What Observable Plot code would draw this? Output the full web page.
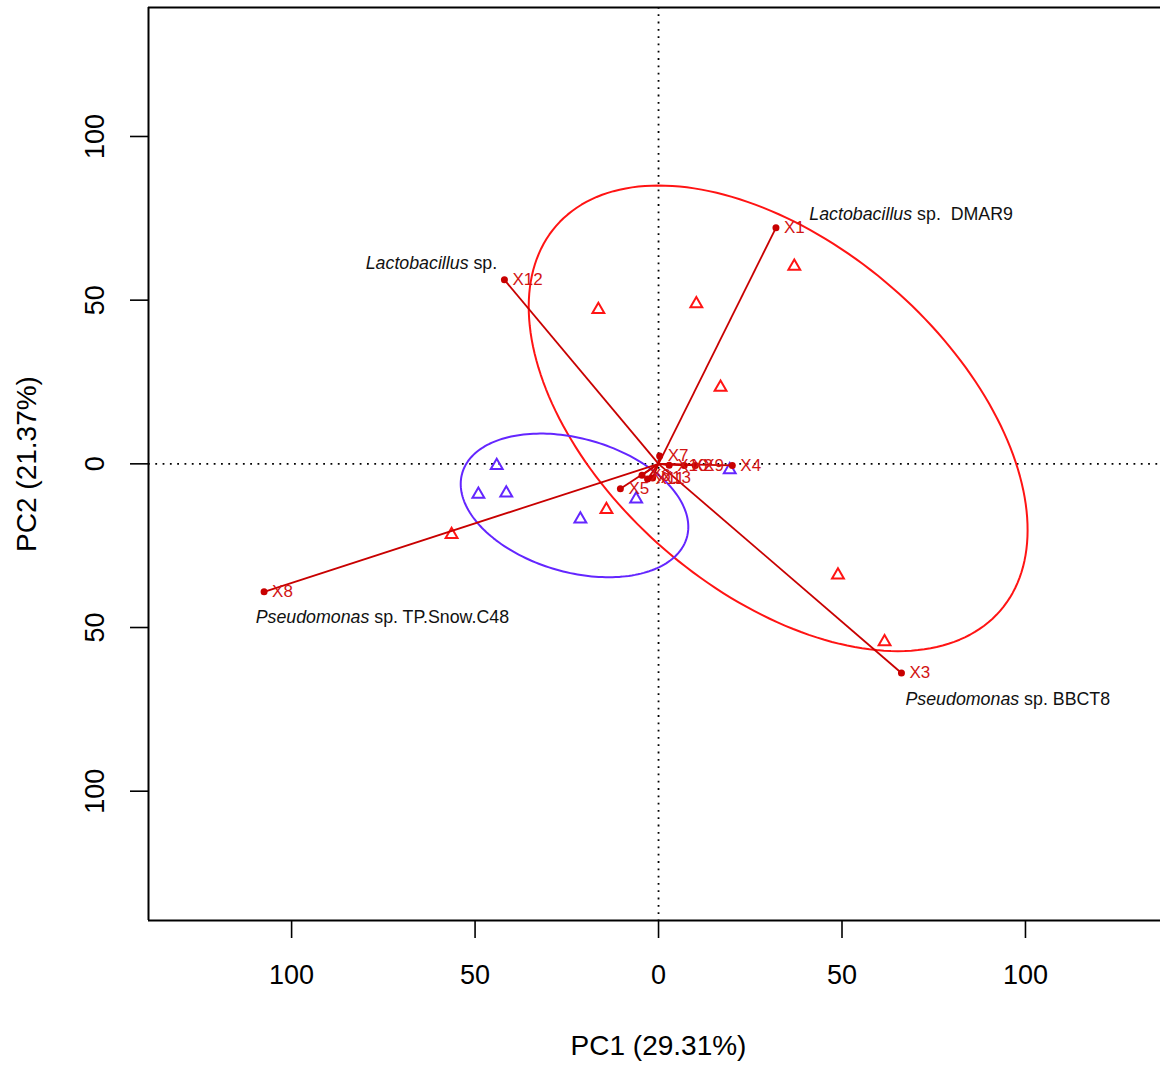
<!DOCTYPE html>
<html>
<head>
<meta charset="utf-8">
<script src="https://cdn.jsdelivr.net/npm/d3@7"></script>
<script src="https://cdn.jsdelivr.net/npm/@observablehq/plot@0.6"></script>
<style>
  html, body { margin: 0; padding: 0; background: #fff; overflow: hidden; }
  #chart svg { display: block; }
</style>
</head>
<body>
<div id="chart"></div>
<script>
// ---- data ----
const groupNames = ["A", "B"];
const groupColors = ["#ff1414", "#6426ff"];

// sample scores (open triangles)
const sampleGroup = ["A", "A", "A", "A", "A", "A", "A", "A", "B", "B", "B", "B", "B", "B"];
const sampleX = [37.0, 10.3, -16.4, 16.9, -14.2, -56.4, 48.9, 61.6, -44.1, -49.1, -41.5, -21.3, -6.1, 19.4];
const sampleY = [60.3, 48.9, 47.1, 23.4, -14.0, -21.6, -34.0, -54.4, -0.5, -9.3, -8.9, -16.9, -10.8, -1.8];

// variable loadings (vectors from origin)
const variables = ["X1", "X2", "X3", "X4", "X5", "X6", "X7", "X8", "X9", "X10", "X11", "X12", "X13"];
const loadingX = [32.0, 7.0, 66.2, 20.1, -10.4, -4.5, 0.3, -107.5, 10.0, 2.9, -3.0, -42.0, -1.6];
const loadingY = [72.1, -0.5, -63.9, -0.5, -7.6, -3.5, 2.4, -39.1, -0.5, -0.4, -4.6, 56.2, -4.3];

// group ellipses: centre and shape matrix [a11, a12, a21, a22]
// (x = cx + a11 cos t + a12 sin t ; y = cy + a21 cos t + a22 sin t)
const ellipseGroup = ["A", "B"];
const ellipseCX = [32.6, -22.9];
const ellipseCY = [13.9, -12.7];
const ellipseShape = [[60.5, -31.0, -58.8, -40.0], [30.6, -5.03, -9.86, -19.6]];

// species annotations
const speciesNames = ["Lactobacillus sp.", "Lactobacillus sp.  DMAR9", "Pseudomonas sp. TP.Snow.C48", "Pseudomonas sp. BBCT8"];
const speciesX = [-79.8, 41.1, -109.8, 67.3];
const speciesY = [61.2, 76.2, -46.9, -71.9];

// axes
const xTicks = [-100, -50, 0, 50, 100];
const yTicks = [-100, -50, 0, 50, 100];
const xDomain = [-139, 136.8];
const yDomain = [-139.5, 139.4];
const xTitle = "PC1 (29.31%)";
const yTitle = "PC2 (21.37%)";

// ---- build tables ----
const samples = sampleX.map((x, i) => ({x, y: sampleY[i], group: sampleGroup[i]}));
const loadings = variables.map((name, i) => ({name, x: loadingX[i], y: loadingY[i]}));
const ellipsePts = [];
ellipseGroup.forEach((g, k) => {
  const [a11, a12, a21, a22] = ellipseShape[k];
  const n = 200;
  for (let j = 0; j <= n; j++) {
    const t = (2 * Math.PI * j) / n;
    ellipsePts.push({
      group: g,
      x: ellipseCX[k] + a11 * Math.cos(t) + a12 * Math.sin(t),
      y: ellipseCY[k] + a21 * Math.cos(t) + a22 * Math.sin(t)
    });
  }
});
const species = speciesNames.map((label, i) => ({label, x: speciesX[i], y: speciesY[i]}));

const FONT = "'Liberation Sans', Arial, Helvetica, sans-serif";
const VEC = "#c80000";

const chart = Plot.plot({
  width: 1160,
  height: 1065,
  marginLeft: 148,
  marginRight: 0,
  marginTop: 7,
  marginBottom: 145,
  style: {fontFamily: FONT, background: "#fff", overflow: "visible"},
  x: {domain: xDomain},
  y: {domain: yDomain},
  color: {domain: groupNames, range: groupColors},
  marks: [
    // dotted zero lines
    Plot.ruleX([0], {stroke: "#000", strokeWidth: 1.8, strokeDasharray: "1.8,5.5"}),
    Plot.ruleY([0], {stroke: "#000", strokeWidth: 1.8, strokeDasharray: "1.8,5.5"}),
    // frame (left, top, bottom)
    Plot.ruleX([xDomain[0]], {stroke: "#000", strokeWidth: 2}),
    Plot.ruleY(yDomain, {stroke: "#000", strokeWidth: 2}),
    // axes
    Plot.axisX({ticks: xTicks, tickSize: 18, tickPadding: 26, fontSize: 27, strokeWidth: 1.6,
                tickFormat: d => String(Math.abs(d)), label: null}),
    Plot.axisY({ticks: yTicks, tickSize: 18, tickPadding: 27, fontSize: 27, strokeWidth: 1.6, tickRotate: -90,
                tickFormat: d => String(Math.abs(d)), label: null}),
    Plot.text([xTitle], {frameAnchor: "bottom", dx: 4, dy: 126, fontSize: 28, lineAnchor: "middle", fill: "#000"}),
    Plot.text([yTitle], {frameAnchor: "left", dx: -121, rotate: -90, fontSize: 28, textAnchor: "middle", lineAnchor: "middle", fill: "#000"}),
    // ellipses
    Plot.line(ellipsePts, {x: "x", y: "y", z: "group", stroke: "group", strokeWidth: 2, curve: "linear"}),
    // sample triangles
    Plot.dot(samples, {x: "x", y: "y", stroke: "group", symbol: "triangle", r: 4.4, strokeWidth: 2, fill: "none"}),
    // loading vectors
    Plot.link(loadings, {x1: () => 0, y1: () => 0, x2: "x", y2: "y", stroke: VEC, strokeWidth: 1.8}),
    Plot.dot(loadings, {x: "x", y: "y", r: 3.5, fill: VEC, stroke: "none"}),
    Plot.text(loadings, {x: "x", y: "y", text: "name", dx: 8, textAnchor: "start", fontSize: 17, fill: "#d21414"}),
    // species annotations
    Plot.text(species, {x: "x", y: "y", text: "label", textAnchor: "start", fontSize: 17.8, fill: "#111"})
  ]
});

document.getElementById("chart").appendChild(chart);

// italicise the genus name in the species annotations
d3.select(chart).selectAll("text").each(function() {
  const el = d3.select(this);
  const full = el.text();
  if (!speciesNames.includes(full)) return;
  const sp = full.indexOf(" ");
  const genus = full.slice(0, sp);
  const rest = full.slice(sp);
  el.text(null).style("white-space", "pre");
  el.append("tspan").attr("font-style", "italic").text(genus);
  el.append("tspan").text(rest);
});
</script>
</body>
</html>
